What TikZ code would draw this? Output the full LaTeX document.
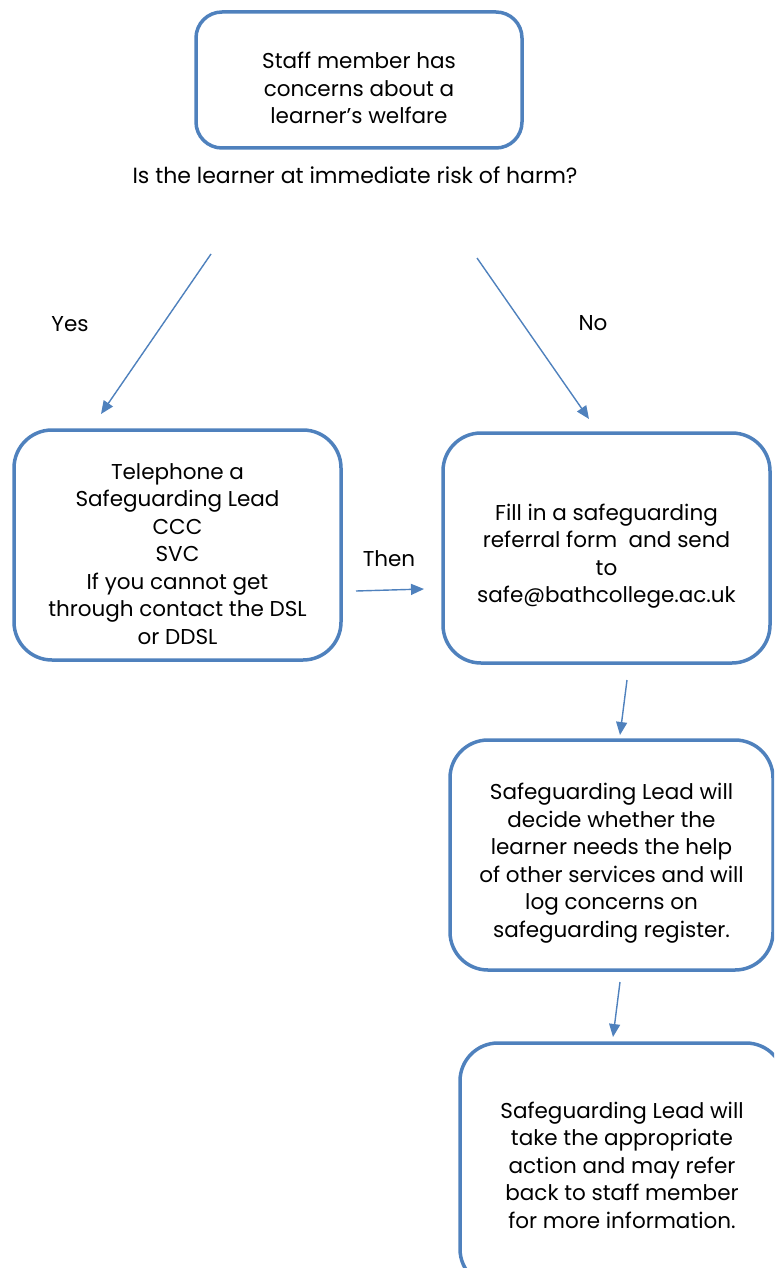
\documentclass[tikz,border=0pt]{standalone}
\usepackage{fontspec}
\setmainfont{Poppins}
\usetikzlibrary{arrows.meta}
\definecolor{boxblue}{HTML}{4F81BD}
\tikzset{
    box/.style = {draw = boxblue, line width = 3.5pt, rounded corners = 38pt},
    txt/.style = {align = center, font = \fontsize{21.5}{27.5}\selectfont},
    link/.style = {draw = boxblue, line width = 1.4pt, -{Triangle[length = 13pt, width = 11pt]}},
    lbl/.style = {font = \fontsize{21.5}{27.5}\selectfont}
}
\begin{document}
\begin{tikzpicture}[x = 1pt, y = -1pt]
        \useasboundingbox (0, 0) rectangle (774, 1268);
        \clip (0, 0) rectangle (774, 1268);
        % boxes
        \node[box, minimum width = 326pt, minimum height = 136pt, rounded corners = 26pt] (0) at (359, 80) {};
        \node[box, minimum width = 327pt, minimum height = 230pt] (1) at (177.5, 545) {};
        \node[box, minimum width = 327pt, minimum height = 230pt] (2) at (606.5, 548) {};
        \node[box, minimum width = 323pt, minimum height = 230pt] (3) at (611.5, 855) {};
        \node[box, minimum width = 324pt, minimum height = 244pt] (4) at (622, 1165) {};
        % texts
        \node[txt] (0t) at ([yshift = -8pt] 0.center) {Staff member has\\concerns about a\\learner's welfare};
        \node[txt] (1t) at ([yshift = -9pt] 1.center) {Telephone a\\Safeguarding Lead\\CCC\\SVC\\If you cannot get\\through contact the DSL\\or DDSL};
        \node[txt] (2t) at ([yshift = -8pt] 2.center) {Fill in a safeguarding\\referral form\ \ and send\\to\\safe@bathcollege.ac.uk};
        \node[txt] (3t) at ([yshift = -8pt] 3.center) {Safeguarding Lead will\\decide whether the\\learner needs the help\\of other services and will\\log concerns on\\safeguarding register.};
        \node[txt] (4t) at ([yshift = 0pt] 4.center) {Safeguarding Lead will\\take the appropriate\\action and may refer\\back to staff member\\for more information.};
        \node[lbl, font = \fontsize{22}{27.5}\selectfont] (q) at (355, 175) {Is the learner at immediate risk of harm?};
        % free ends of the arrows
        \coordinate (yes0) at (211, 254);
        \coordinate (yes1) at (101, 414);
        \coordinate (no0) at (477, 258);
        \coordinate (no1) at (589, 419);
        \coordinate (then0) at (356, 591);
        \coordinate (then1) at (424, 589);
        \coordinate (a0) at (627, 680);
        \coordinate (a1) at (620, 735);
        \coordinate (b0) at (620, 982);
        \coordinate (b1) at (613, 1037);
        \draw[link] (yes0) -- (yes1);
        \draw[link] (no0) -- (no1);
        \draw[link] (then0) -- (then1);
        \draw[link] (a0) -- (a1);
        \draw[link] (b0) -- (b1);
        \node[lbl] (yes) at (70, 324) {Yes};
        \node[lbl] (no) at (593, 323) {No};
        \node[lbl] (then) at (389, 559) {Then};
    \end{tikzpicture}
\end{document}
